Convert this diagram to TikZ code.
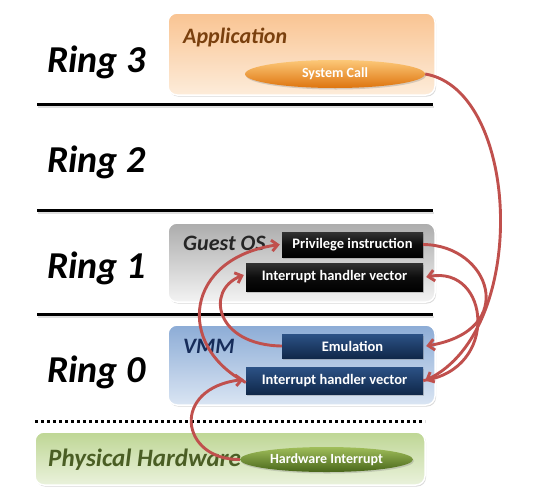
\documentclass[tikz,border=0pt]{standalone}
\usepackage{fontspec}
\setmainfont{Carlito}
\usetikzlibrary{arrows.meta,shadows,shapes.geometric,shadings}
\definecolor{arrowred}{RGB}{192,80,77}
\definecolor{appA}{RGB}{249,196,146}
\definecolor{appB}{RGB}{253,236,218}
\definecolor{gosA}{RGB}{172,172,172}
\definecolor{gosB}{RGB}{243,243,243}
\definecolor{vmmA}{RGB}{140,172,214}
\definecolor{vmmB}{RGB}{218,229,243}
\definecolor{hwA}{RGB}{190,214,148}
\definecolor{hwB}{RGB}{234,242,220}
\definecolor{navyA}{RGB}{44,82,134}
\definecolor{navyB}{RGB}{16,40,74}
\definecolor{orA}{RGB}{252,200,120}
\definecolor{orM}{RGB}{244,150,40}
\definecolor{orB}{RGB}{222,116,14}
\definecolor{grA}{RGB}{160,190,90}
\definecolor{grM}{RGB}{110,144,48}
\definecolor{grB}{RGB}{72,102,26}
\definecolor{apptext}{RGB}{122,64,14}
\definecolor{vmmtext}{RGB}{22,44,90}
\definecolor{hwtext}{RGB}{74,94,36}
\begin{document}
\begin{tikzpicture}[x=1pt,y=-1pt,
  ring/.style={font=\fontsize{38}{40}\selectfont\bfseries\itshape, anchor=base west, inner sep=0pt},
  layer/.style={rounded corners=9pt, draw=white, line width=1.5pt, inner sep=0pt,
    drop shadow={opacity=0.3, shadow xshift=1pt, shadow yshift=-1.5pt}},
  layertitle/.style={font=\fontsize{22}{24}\selectfont\bfseries\itshape, anchor=base west, inner sep=0pt},
  darkbox/.style={inner sep=0pt, text=white, font=\fontsize{14.5}{16}\selectfont\bfseries,
    drop shadow={opacity=0.35, shadow xshift=1pt, shadow yshift=-1.5pt}},
  blackbox/.style={darkbox, top color=black!80, bottom color=black, middle color=black!95},
  navybox/.style={darkbox, top color=navyA, bottom color=navyB},
  oval/.style={ellipse, inner sep=0pt, text=white, font=\fontsize{14}{16}\selectfont\bfseries,
    drop shadow={opacity=0.3, shadow xshift=1pt, shadow yshift=-1.5pt}},
  sep/.style={line width=3pt, black},
  sepshadow/.style={line width=2.5pt, black!25, opacity=0.5},
  flow/.style={line width=2.9pt, arrowred, -{Straight Barb[length=6pt,width=11pt]}}
]
\useasboundingbox (0,0) rectangle (534,501);

% separators
\draw[sepshadow] (38,107) -- (434,107);
\draw[sep] (37,104) -- (433,104);
\draw[sepshadow] (38,213) -- (434,213);
\draw[sep] (37,210) -- (433,210);
\draw[sepshadow] (38,317) -- (434,317);
\draw[sep] (37,314) -- (433,314);
\draw[sep, dash pattern=on 3pt off 3pt] (35,421) -- (425,421);

% ring labels
\node[ring] (r3) at (47,72) {Ring 3};
\node[ring] (r2) at (47,172) {Ring 2};
\node[ring] (r1) at (47,278) {Ring 1};
\node[ring] (r0) at (47,382) {Ring 0};

% layer boxes
\node[layer, top color=appA, bottom color=appB, minimum width=267pt, minimum height=82pt] (app) at (301.5,54) {};
\node[layertitle, text=apptext] (apptitle) at (183,43) {Application};

\node[layer, top color=gosA, bottom color=gosB, minimum width=267pt, minimum height=79pt] (gos) at (301.5,262.5) {};
\node[layertitle, text=black!85] (gostitle) at (183,250) {Guest OS};

\node[layer, top color=vmmA, bottom color=vmmB, minimum width=267pt, minimum height=80pt] (vmm) at (301.5,365) {};
\node[layertitle, text=vmmtext] (vmmtitle) at (183,353) {VMM};

\node[layer, top color=hwA, bottom color=hwB, minimum width=390pt, minimum height=53pt] (hw) at (230,458.5) {};
\node[layertitle, text=hwtext, font=\fontsize{25}{27}\selectfont\bfseries\itshape] (hwtitle) at (48,466) {Physical Hardware};

% inner elements
\node[oval, top color=orA, middle color=orM, bottom color=orB, minimum width=180pt, minimum height=28pt] (sys) at (335,74) {System Call};

\node[blackbox, minimum width=141pt, minimum height=25pt] (priv) at (352.5,244.5) {Privilege instruction};
\node[blackbox, minimum width=177pt, minimum height=28pt] (gihv) at (334.5,277) {Interrupt handler vector};

\node[navybox, minimum width=141pt, minimum height=24pt] (emu) at (352.5,346) {Emulation};
\node[navybox, minimum width=177pt, minimum height=27pt] (vihv) at (334.5,380.5) {Interrupt handler vector};

\node[oval, top color=grA, middle color=grM, bottom color=grB, minimum width=173pt, minimum height=25pt] (hwint) at (326.5,459.5) {Hardware Interrupt};

% flows
\draw[flow] (sys.east) .. controls (520,90) and (530,330) .. ([xshift=2pt]vihv.east);
\draw[flow] (priv.east) .. controls (490,245) and (520,330) .. ([xshift=3pt]emu.east);
\draw[flow] (vihv.east) .. controls (500,370) and (490,265) .. ([xshift=3pt]gihv.east);
\draw[flow] (hwint.west) .. controls (180,460) and (170,388) .. ([xshift=-2pt,yshift=1pt]vihv.west);
\draw[flow] ([yshift=-2pt]vihv.west) .. controls (175,345) and (185,258) .. ([xshift=-2pt]priv.west);
\draw[flow] (emu.west) .. controls (215,345) and (205,290) .. ([xshift=-2pt,yshift=2pt]gihv.west);
\end{tikzpicture}
\end{document}
